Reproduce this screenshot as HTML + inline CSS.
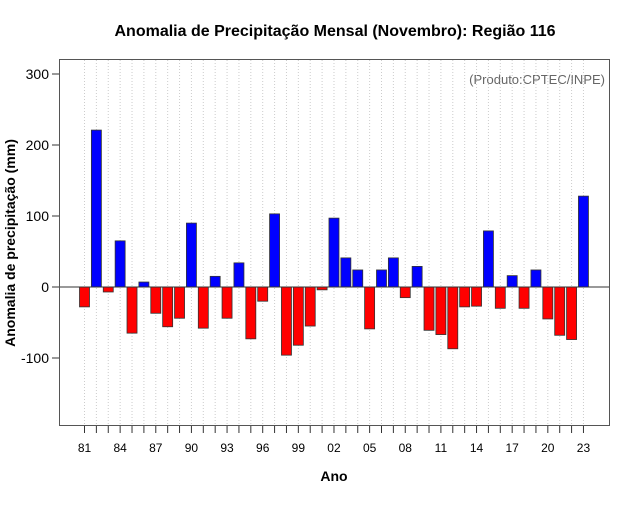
<!DOCTYPE html>
<html><head><meta charset="utf-8"><style>
body{margin:0;background:#fff;}
svg text{font-family:"Liberation Sans",Arial,sans-serif;}
</style></head><body>
<svg id="chart" width="640" height="500" xmlns="http://www.w3.org/2000/svg">
<rect width="640" height="500" fill="#fff"/>
<text x="335" y="36" font-size="16" font-weight="bold" text-anchor="middle">Anomalia de Precipitação Mensal (Novembro): Região 116</text>
<text x="605" y="84" font-size="13" fill="#666" text-anchor="end">(Produto:CPTEC/INPE)</text>
<text x="334" y="481" font-size="14" font-weight="bold" text-anchor="middle">Ano</text>
<text transform="translate(15,243) rotate(-90)" font-size="14" font-weight="bold" text-anchor="middle">Anomalia de precipitação (mm)</text>
<g id="grid"></g><g id="bars"></g><g id="axes"></g>
<rect x="59.5" y="59.5" width="550" height="366" fill="none" stroke="#555" stroke-width="1"/>
</svg>
<script>
const years=[1981,1982,1983,1984,1985,1986,1987,1988,1989,1990,1991,1992,1993,1994,1995,1996,1997,1998,1999,2000,2001,2002,2003,2004,2005,2006,2007,2008,2009,2010,2011,2012,2013,2014,2015,2016,2017,2018,2019,2020,2021,2022,2023];
const anomalies=[-28,221,-7,65,-65,7,-37,-56,-44,90,-58,15,-44,34,-73,-20,103,-96,-82,-55,-4,97,41,24,-59,24,41,-15,29,-61,-67,-87,-28,-27,79,-30,16,-30,24,-45,-68,-74,128];
const yTicks=[-100,0,100,200,300];
const NS="http://www.w3.org/2000/svg";
const xS=y=>84.5+(y-1981)*11.88;
const yS=v=>287-v*0.71;
function mk(t,a,p){const e=document.createElementNS(NS,t);for(const k in a)e.setAttribute(k,a[k]);document.getElementById(p).appendChild(e);return e;}
years.forEach((yr,i)=>{
  const g=mk('line',{x1:xS(yr),x2:xS(yr),y1:60,y2:425,stroke:'#ccc','stroke-dasharray':'1,2'},'grid');
  
  
  const v=anomalies[i];
  const b=mk('rect',{x:xS(yr)-5,y:Math.min(yS(v),yS(0)),width:10,height:Math.abs(yS(v)-yS(0)),fill:v>=0?'#0000ff':'#ff0000',stroke:'#333','stroke-width':0.8},'bars');
  
  
  const t=mk('line',{x1:xS(yr),x2:xS(yr),y1:426,y2:433,stroke:'#333'},'axes');
  
  
  if((yr-1981)%3===0){
    const l=mk('text',{x:xS(yr),y:452,'font-size':12,'text-anchor':'middle'},'axes');
    l.textContent=String(yr%100).padStart(2,'0');
    
    
  }
});
const z=mk('line',{x1:60,x2:609,y1:yS(0),y2:yS(0),stroke:'#333'},'bars');


yTicks.forEach(v=>{
  const t=mk('line',{x1:52,x2:59,y1:yS(v),y2:yS(v),stroke:'#333'},'axes');
  
  
  const l=mk('text',{x:49,y:yS(v)+5,'font-size':14,'text-anchor':'end'},'axes');
  l.textContent=v;
  
  
});
</script>
</body></html>
